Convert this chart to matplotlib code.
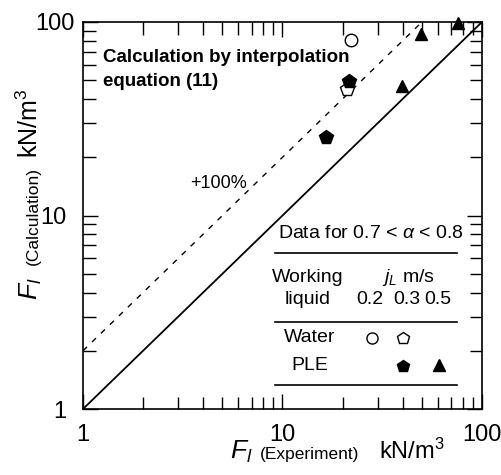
import matplotlib
matplotlib.use("Agg")
import matplotlib.pyplot as plt
import matplotlib.transforms as mtransforms
import numpy as np

# ---- data ----
water_02_x = [22.0]
water_02_y = [80.7]
water_03_x = [21.0]
water_03_y = [44.9]
ple_03_x = [21.6, 16.6]
ple_03_y = [49.5, 25.4]
ple_05_x = [39.6, 49.3, 75.5]
ple_05_y = [46.9, 86.4, 99.2]
ref_line = [1, 100]
plus100_x = [1, 50]
tick_vals = [1, 10, 100]
tick_labels = ["1", "10", "100"]

BASE = "Liberation Sans"
plt.rcParams['font.family'] = [BASE, 'DejaVu Sans']
plt.rcParams['mathtext.fontset'] = 'custom'
plt.rcParams['mathtext.rm'] = BASE
plt.rcParams['mathtext.it'] = BASE + ':italic'
plt.rcParams['mathtext.bf'] = BASE + ':bold'

W, H = 502, 475
fig = plt.figure(figsize=(W / 100, H / 100), dpi=100)
ax = fig.add_axes([83 / W, 1 - 409 / H, (482 - 83) / W, (409 - 22) / H])
ax.set_xscale('log')
ax.set_yscale('log')
ax.set_xlim(1, 100)
ax.set_ylim(1, 100)

for s in ax.spines.values():
    s.set_linewidth(1.2)

ax.tick_params(which='both', direction='in', top=True, right=True, width=1.0)
ax.tick_params(which='major', length=11, labelsize=17)
ax.tick_params(which='minor', length=9)
ax.set_xticks(tick_vals)
ax.set_xticklabels(tick_labels)
ax.set_yticks(tick_vals)
ax.set_yticklabels(tick_labels)
ax.tick_params(axis='y', which='major', pad=12)
ax.tick_params(axis='x', which='major', pad=11)

# the top y label sits closer to the axis in the reference
fig.canvas.draw()
ylabs = ax.get_yticklabels()
ylabs[-1].set_transform(ylabs[-1].get_transform() +
                        mtransforms.ScaledTranslation(8 / 100, 0, fig.dpi_scale_trans))

ax.plot(ref_line, ref_line, color='black', lw=1.3)
ax.plot(plus100_x, [2 * v for v in plus100_x], color='black', lw=1.0, ls=(0, (4, 5)))

ms = 9
ax.plot(water_02_x, water_02_y, 'o', mfc='white', mec='black', ms=ms, mew=1.0, clip_on=False)
ax.plot(water_03_x, water_03_y, 'p', mfc='white', mec='black', ms=ms + 1, mew=1.0, clip_on=False)
ax.plot(ple_03_x, ple_03_y, 'p', mfc='black', mec='black', ms=ms + 1, clip_on=False)
ax.plot(ple_05_x, ple_05_y, '^', mfc='black', mec='black', ms=ms, clip_on=False)

def fx(px):
    return px / W

def fy(py):
    return 1 - py / H

fig.text(fx(103), fy(57), "Calculation by interpolation", fontsize=13.5, fontweight='bold',
         va='center', ha='left')
fig.text(fx(103), fy(82), "equation (11)", fontsize=13.5, fontweight='bold',
         va='center', ha='left')
fig.text(fx(219), fy(183), "+100%", fontsize=13, va='center', ha='center')

# legend table
fig.text(fx(371), fy(233), r"Data for 0.7 < $\alpha$ < 0.8", fontsize=14,
         va='center', ha='center')
for yy in (253, 322, 385):
    fig.add_artist(plt.Line2D([fx(275), fx(457)], [fy(yy), fy(yy)], color='black', lw=1.2))
fig.text(fx(308), fy(278), "Working", fontsize=14, va='center', ha='center')
fig.text(fx(308), fy(300), "liquid", fontsize=14, va='center', ha='center')
fig.text(fx(408), fy(277), r"$j_L$ m/s", fontsize=14, va='center', ha='center')
for xx, lab in ((370, "0.2"), (407, "0.3"), (438, "0.5")):
    fig.text(fx(xx), fy(300), lab, fontsize=14, va='center', ha='center')
fig.text(fx(310), fy(338), "Water", fontsize=14, va='center', ha='center')
fig.text(fx(310), fy(366), "PLE", fontsize=14, va='center', ha='center')
fig.add_artist(plt.Line2D([fx(372)], [fy(338)], marker='o', mfc='white', mec='black', ms=8, mew=1.0))
fig.add_artist(plt.Line2D([fx(403)], [fy(338)], marker='p', mfc='white', mec='black', ms=9, mew=1.0))
fig.add_artist(plt.Line2D([fx(403)], [fy(366)], marker='p', mfc='black', mec='black', ms=9))
fig.add_artist(plt.Line2D([fx(439)], [fy(365)], marker='^', mfc='black', mec='black', ms=8))

# axis labels (pieces)
xb = fy(459)
fig.text(fx(230), xb, r"$F_l$", fontsize=19, va='baseline', ha='left')
fig.text(fx(260), xb, "(Experiment)", fontsize=12.5, va='baseline', ha='left')
fig.text(fx(379), xb, r"kN/m$^3$", fontsize=17, va='baseline', ha='left')

yb = fx(38)
kw = dict(rotation=90, rotation_mode='anchor', va='baseline', ha='left')
fig.text(yb, fy(300), r"$F_l$", fontsize=19, **kw)
fig.text(yb, fy(265), "(Calculation)", fontsize=12.5, **kw)
fig.text(yb, fy(158), r"kN/m$^3$", fontsize=18, **kw)

fig.savefig("out.png", dpi=100)
